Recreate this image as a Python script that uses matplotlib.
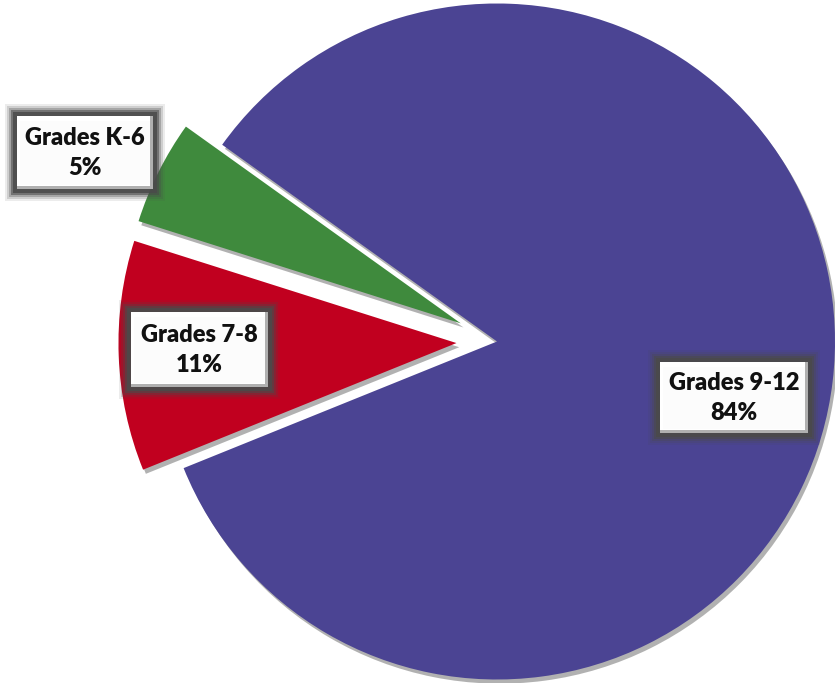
import matplotlib
matplotlib.use('Agg')
import matplotlib.pyplot as plt
import matplotlib.patheffects as pe
from matplotlib.patches import Rectangle

# share of students by grade band
grades = ['Grades K-6', 'Grades 7-8', 'Grades 9-12']
shares = [5, 11, 84]
colors = ['#3f8a3d', '#c1001f', '#4b4493']
explode_frac = [0.12, 0.12, 0.0]

# label box centres and inner sizes, in pixel units
label_pos = [(85, 531), (199, 334), (734, 286)]
label_size = [(136, 73), (137, 75), (148, 71)]

radius = 338
center = (497, 341.5)


def draw_label(ax, xy, size, text):
    cx, cy = xy
    w, h = size
    # soft dark frame around the box
    for i, a in enumerate([0.10, 0.18, 0.30, 0.55, 0.85]):
        grow = 12 - i * 2
        ax.add_patch(Rectangle((cx - w / 2 - grow, cy - h / 2 - grow),
                               w + 2 * grow, h + 2 * grow,
                               facecolor='#4a4a4a', edgecolor='none',
                               alpha=a, zorder=5))
    # bevel: grey bottom/right, white face on top
    ax.add_patch(Rectangle((cx - w / 2, cy - h / 2), w, h,
                           facecolor='#b0b0b0', edgecolor='none', zorder=6))
    ax.add_patch(Rectangle((cx - w / 2, cy - h / 2 + 3), w - 3, h - 3,
                           facecolor='#ffffff', edgecolor='none', zorder=7))
    ax.add_patch(Rectangle((cx - w / 2 + 3, cy - h / 2 + 4), w - 6, h - 9,
                           facecolor='#fcfcfc', edgecolor='none', zorder=7))
    ax.text(cx, cy - 1, text, ha='center', va='center', fontsize=17,
            fontweight='heavy', family=['Lato', 'DejaVu Sans'],
            color='#111111', linespacing=1.45, zorder=8)


fig = plt.figure(figsize=(8.35, 6.83), dpi=100)
ax = fig.add_axes([0, 0, 1, 1])

# pie explode is in data units, so scale by the radius
explode = [f * radius for f in explode_frac]
wedges, _ = ax.pie(shares, colors=colors, explode=explode, startangle=144.4,
                   counterclock=True, center=center, radius=radius,
                   wedgeprops=dict(linewidth=0))
for w in wedges:
    w.set_path_effects([pe.SimplePatchShadow(offset=(2, -3), shadow_rgbFace='#222222',
                                             alpha=0.35), pe.Normal()])

for name, val, pos, size in zip(grades, shares, label_pos, label_size):
    draw_label(ax, pos, size, '{}\n{}%'.format(name, val))

ax.set_xlim(0, 835)
ax.set_ylim(0, 683)
ax.set_aspect('equal')
ax.axis('off')

plt.savefig('out.png', dpi=100)
